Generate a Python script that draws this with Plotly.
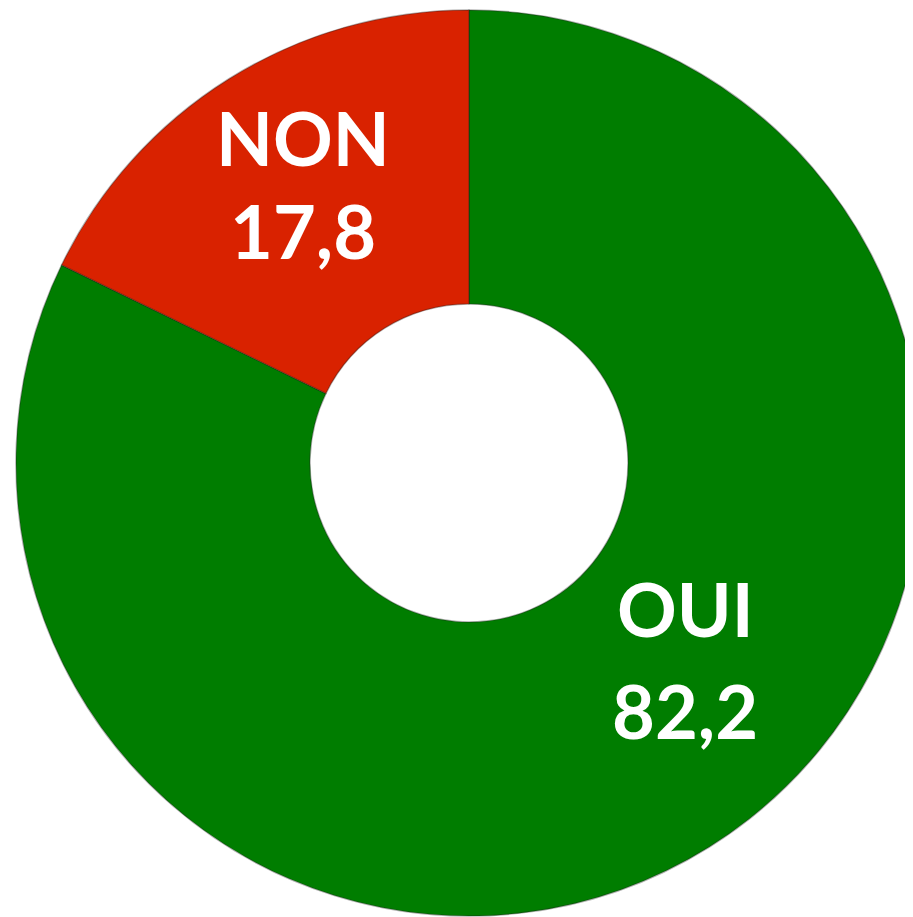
import plotly.graph_objects as go

labels = ["OUI", "NON"]
values = [82.2, 17.8]
value_text = ["82,2", "17,8"]
colors = ["#007D00", "#D92200"]

# The page body has an 8px default margin, so the figure is laid out
# in figure coordinates = page coordinates - 8.
OFF = 8
W, H = 921, 917

fig = go.Figure()
fig.add_trace(go.Pie(
    labels=labels,
    values=values,
    hole=0.351,
    sort=False,
    direction="clockwise",
    rotation=0,
    textinfo="none",
    hoverinfo="label+value",
    marker=dict(colors=colors, line=dict(color="rgba(30,30,30,0.35)", width=1.5)),
    domain=dict(x=[8 / W, 914 / W], y=[1 - 908 / H, 1 - 2 / H]),
    showlegend=False,
))

# label positions (page pixel centres)
label_pos = {"NON": [(303, 138), (303, 231)], "OUI": [(685, 608), (685, 710)]}
for lab, val in zip(labels, value_text):
    (x1, y1), (x2, y2) = label_pos[lab]
    for txt, (px, py) in ((lab, (x1, y1)), (val, (x2, y2))):
        fig.add_annotation(
            x=(px - OFF) / W, y=1 - (py - OFF) / H, xref="paper", yref="paper",
            text=txt, showarrow=False,
            font=dict(family="Lato", size=74, color="white", weight="bold"),
            xanchor="center", yanchor="middle",
        )

fig.update_layout(
    width=W, height=H,
    margin=dict(l=0, r=0, t=0, b=0),
    paper_bgcolor="white",
    plot_bgcolor="white",
)

fig.write_html("out.html")
